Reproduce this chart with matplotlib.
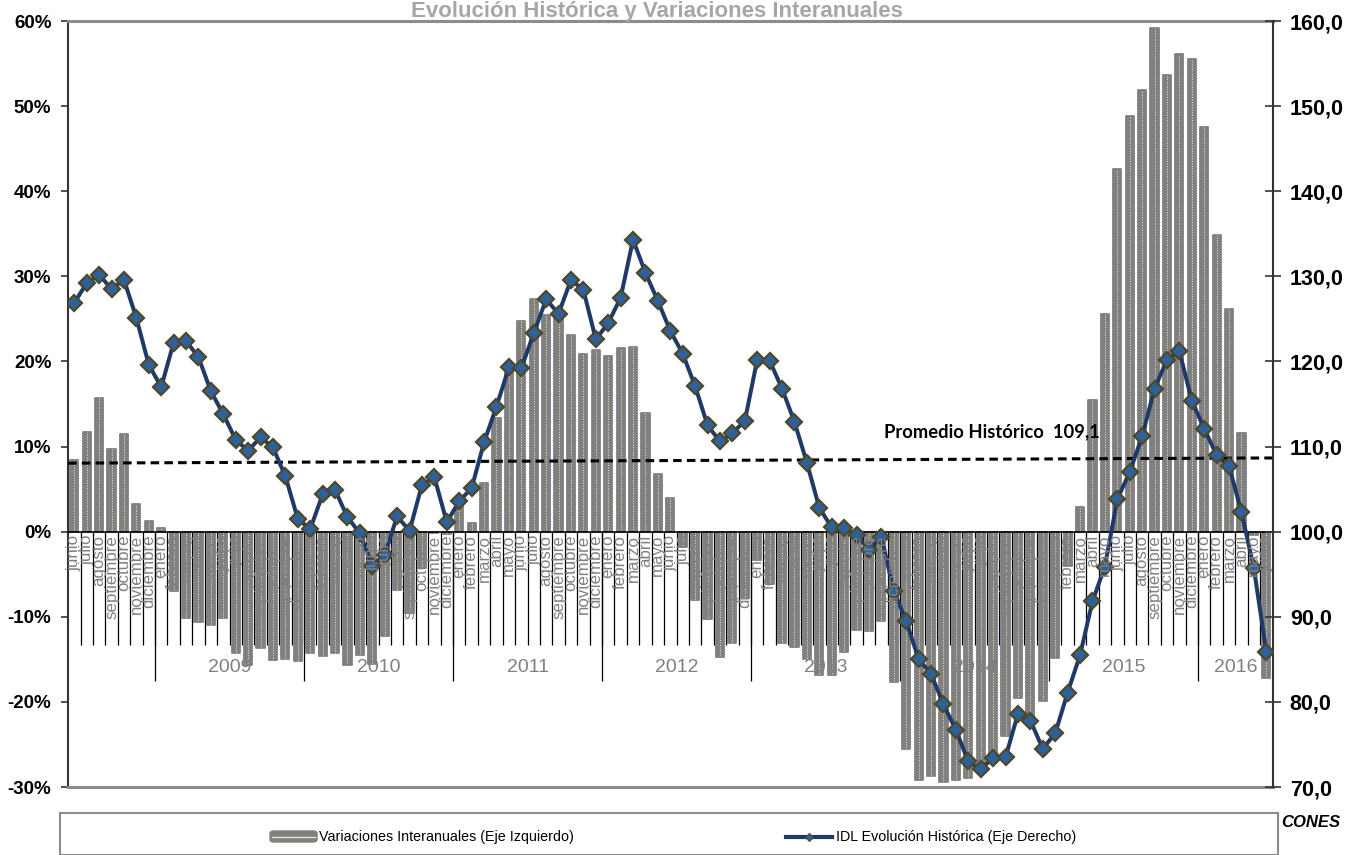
import matplotlib
matplotlib.use("Agg")
import matplotlib.pyplot as plt
import numpy as np
from matplotlib.patches import Rectangle, FancyBboxPatch
from matplotlib.transforms import offset_copy
from matplotlib.lines import Line2D
from matplotlib.ticker import FuncFormatter

plt.rcParams['font.family'] = ['Liberation Sans', 'DejaVu Sans']

# ---- data (junio 2008 .. junio 2016) ----
month_names = ['enero', 'febrero', 'marzo', 'abril', 'mayo', 'junio', 'julio',
               'agosto', 'septiembre', 'octubre', 'noviembre', 'diciembre']
first_month = 5          # junio
years = ['', '2009', '2010', '2011', '2012', '2013', '2014', '2015', '2016']

variacion = [8.4, 11.7, 15.7, 9.7, 11.5, 3.3, 1.2,                       # 2008
             0.4, -7.0, -10.2, -10.6, -11.0, -10.2, -14.3, -15.7, -13.7, -15.1, -15.0, -15.2,
             -14.3, -14.6, -14.3, -15.7, -14.5, -15.6, -12.3, -6.8, -9.6, -4.3, -0.2, -0.3,
             3.2, 1.0, 5.7, 13.3, 19.0, 24.7, 27.3, 25.5, 25.1, 23.1, 20.9, 21.4,
             20.6, 21.6, 21.7, 13.9, 6.8, 4.0, -1.8, -8.0, -10.3, -14.7, -13.1, -7.8,
             -3.3, -6.2, -13.1, -13.5, -15.0, -16.8, -16.8, -14.1, -11.5, -11.7, -10.5, -17.7,
             -25.5, -29.2, -28.7, -29.4, -29.2, -28.9, -28.0, -26.5, -24.0, -19.5, -22.0, -19.9,
             -14.8, -4.0, 2.9, 15.5, 25.6, 42.6, 48.8, 51.9, 59.2, 53.6, 56.1, 55.5,
             47.6, 34.8, 26.2, 11.6, -0.4, -17.2]

idl = [126.9, 129.2, 130.2, 128.5, 129.6, 125.1, 119.6,
       117.0, 122.2, 122.4, 120.5, 116.5, 113.8, 110.8, 109.5, 111.1, 109.9, 106.5, 101.5,
       100.3, 104.4, 104.9, 101.7, 99.8, 96.0, 97.3, 101.8, 100.1, 105.5, 106.4, 101.1,
       103.6, 105.1, 110.5, 114.7, 119.3, 119.2, 123.3, 127.3, 125.6, 129.6, 128.4, 122.6,
       124.5, 127.5, 134.3, 130.4, 127.1, 123.6, 120.9, 117.1, 112.5, 110.6, 111.6, 113.0,
       120.2, 120.1, 116.8, 112.9, 108.1, 102.8, 100.5, 100.4, 99.6, 97.9, 99.4, 93.0,
       89.5, 85.0, 83.3, 79.7, 76.7, 73.0, 72.1, 73.4, 73.5, 78.6, 77.8, 74.5,
       76.3, 81.1, 85.5, 91.8, 95.9, 103.8, 107.0, 111.2, 116.8, 120.2, 121.2, 115.4,
       112.1, 109.0, 107.7, 102.3, 95.7, 85.9]

promedio_ends = [108.05, 108.66]
promedio_label = 'Promedio Histórico  109,1'

GRAY = '#808080'
W, H = 1349, 855


def fx(px):
    return px / W


def fy(py):
    return 1 - py / H


n = len(variacion)
x = np.arange(n)
meses = [month_names[(first_month + i) % 12] for i in range(n)]

fig = plt.figure(figsize=(W / 100, H / 100), dpi=100)
ax = fig.add_axes([fx(68.1), fy(787), fx(1272.5) - fx(68.1), fy(21) - fy(787)])
ax2 = ax.twinx()

# bars
ax.bar(x, variacion, width=0.66, color=GRAY, edgecolor=GRAY, linewidth=1.3,
       joinstyle='round', zorder=2)
ax.vlines(x, 0, variacion, colors='#e2dab0', linestyles=(0, (1, 1.3)),
          linewidth=0.8, zorder=2.5)
ax.axhline(0, color='black', lw=1.2, zorder=3)

# category separators
sep = np.arange(n + 1) - 0.5
year_sep = [6.5 + 12 * k for k in range(8)]
ax.vlines(sep[1:-1], -13.3, 0, colors='black', lw=0.9, zorder=1)
ax.vlines(year_sep, -17.5, 0, colors='black', lw=0.9, zorder=1)

ax.set_xlim(-0.5, n - 0.5)
ax.set_ylim(-30, 60)
ax.set_yticks(np.arange(-30, 61, 10))
ax.yaxis.set_major_formatter(FuncFormatter(lambda v, p: f'{v:.0f}%'))
ax.set_xticks([])
ax.tick_params(axis='y', direction='out', length=5, width=1.2, color='#333333',
               pad=7, labelsize=13.5)
for t in ax.get_yticklabels():
    t.set_fontweight('bold')

# line (right axis)
ax2.plot([-0.5, n - 0.5], promedio_ends, color='black', lw=2.2,
         dashes=(2.8, 1.7), zorder=2)
ax2.plot(x, idl, color='#1F3A68', lw=2.9, marker='D', ms=8,
         mfc='#2E6099', mec='#4E482A', mew=1.6, zorder=3)
ax2.set_ylim(70, 160)
ax2.set_yticks(np.arange(70, 161, 10))
ax2.yaxis.set_major_formatter(FuncFormatter(lambda v, p: f'{v:.1f}'.replace('.', ',')))
ax2.tick_params(axis='y', direction='inout', length=11, width=1.2, color='#333333',
                pad=7, labelsize=15.5)
for t in ax2.get_yticklabels():
    t.set_fontweight('bold')

for a in (ax, ax2):
    for s in a.spines.values():
        s.set_visible(False)
ax.spines['left'].set_visible(True)
ax.spines['left'].set_color('#333333')
ax.spines['left'].set_linewidth(1.5)
ax2.spines['right'].set_visible(True)
ax2.spines['right'].set_color('#333333')
ax2.spines['right'].set_linewidth(1.5)
for s in ('top', 'bottom'):
    ax.spines[s].set_visible(True)
    ax.spines[s].set_color('#8C8C8C')
    ax.spines[s].set_linewidth(2.2)

# month labels: same grey as the bars, so they vanish where a bar covers them
lab_tr = offset_copy(ax.transData, fig=fig, x=0, y=-3, units='dots')
for i, m in enumerate(meses):
    fig.text(i, 0, m, transform=lab_tr, rotation=90, ha='center', va='top',
             fontsize=12.2, color=GRAY, zorder=5)

# year labels
for k, yr in enumerate(years):
    lo = -0.5 if k == 0 else year_sep[k - 1]
    hi = year_sep[k] if k < len(year_sep) else n - 0.5
    fig.text((lo + hi) / 2, -16.0, yr, transform=ax.transData, ha='center',
             va='center', fontsize=14, color=GRAY, zorder=5)

# titles and notes
fig.text(fx(657), fy(17.5), 'Evolución Histórica y Variaciones Interanuales',
         ha='center', va='baseline', fontsize=16, fontweight='bold', color='#A6A6A6')
fig.text(fx(884), fy(432), promedio_label, ha='left', va='center', fontsize=13.2,
         fontweight='bold', family=['Lato', 'DejaVu Sans'], color='black')
fig.text(fx(1281), fy(822), 'CONES', ha='left', va='center', fontsize=12,
         fontweight='bold', style='italic', color='black')

# legend box
fig.add_artist(Rectangle((fx(60), 0), fx(1278) - fx(60), fy(813), transform=fig.transFigure,
                         facecolor='white', edgecolor='#8C8C8C', lw=1.5, zorder=1))
fig.add_artist(FancyBboxPatch((fx(270), fy(842)), fx(317) - fx(270), fy(831) - fy(842),
                              boxstyle='round,pad=0,rounding_size=0.003',
                              transform=fig.transFigure, facecolor=GRAY, edgecolor=GRAY,
                              lw=1, zorder=2))
fig.add_artist(Line2D([fx(272), fx(315)], [fy(836.5), fy(836.5)], transform=fig.transFigure,
                      color='#e8e2c0', lw=1, zorder=3))
fig.text(fx(319), fy(837), 'Variaciones Interanuales (Eje Izquierdo)', ha='left',
         va='center', fontsize=10.3, zorder=3)
fig.add_artist(Line2D([fx(786), fx(832)], [fy(836.5), fy(836.5)], transform=fig.transFigure,
                      color='#1F3A68', lw=3, zorder=3))
fig.add_artist(Line2D([fx(809)], [fy(836.5)], transform=fig.transFigure, marker='D', ms=4,
                      mfc='#2E6099', mec='#4E482A', mew=0.8, zorder=4))
fig.text(fx(836), fy(837), 'IDL Evolución Histórica (Eje Derecho)', ha='left',
         va='center', fontsize=10.3, zorder=3)

fig.savefig('out.png', dpi=100)
